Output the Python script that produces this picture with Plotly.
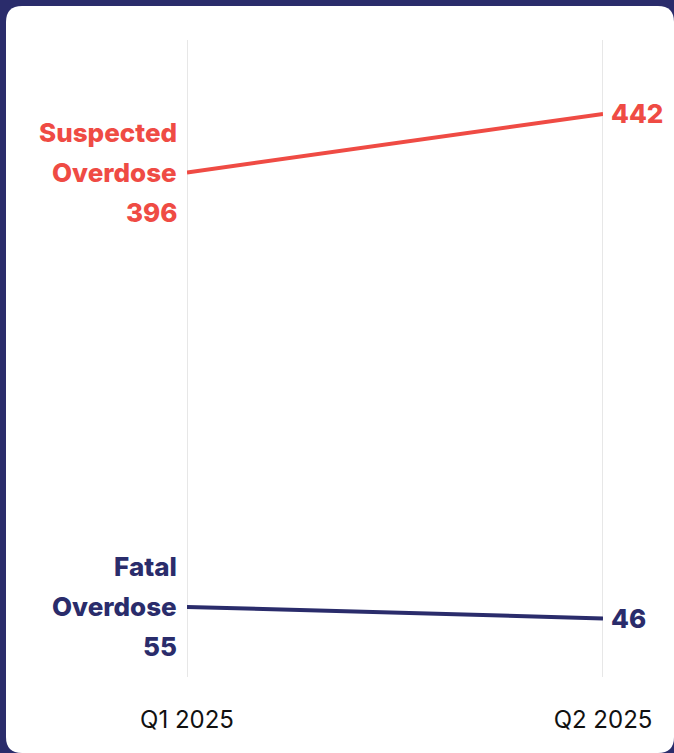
import plotly.graph_objects as go

quarters = ["Q1 2025", "Q2 2025"]
suspected = [396, 442]
fatal = [55, 46]
series_names = [["Suspected", "Overdose"], ["Fatal", "Overdose"]]
colors = ["#EF4B44", "#2A2C6B"]
NAVY = "#2A2C6B"

W, H = 674, 753
ML, MR, MT, MB = 187, W - 603, 40, H - 677

fig = go.Figure()
for vals, col in zip([suspected, fatal], colors):
    fig.add_trace(go.Scatter(x=[0, 1], y=vals, mode="lines",
                             line=dict(color=col, width=4), hoverinfo="skip",
                             showlegend=False, cliponaxis=False))

FONT = "Inter"
anns = []
for vals, names, col in zip([suspected, fatal], series_names, colors):
    lines = names + [str(vals[0])]
    for i, t in enumerate(lines):
        anns.append(dict(x=0, y=vals[0], xref="x", yref="y", text=t, showarrow=False,
                         xanchor="right", yanchor="middle", xshift=-8, yshift=(1 - i) * 40,
                         font=dict(family=FONT, size=26, color=col, weight=800)))
    anns.append(dict(x=1, y=vals[1], xref="x", yref="y", text=str(vals[1]), showarrow=False,
                     xanchor="left", yanchor="middle", xshift=6,
                     font=dict(family=FONT, size=26, color=col, weight=800)))

# rounded white card (paper coordinates)
pw, ph = W - ML - MR, H - MT - MB
def px(x): return (x - ML) / pw
def py(y): return (H - MB - y) / ph
L, T, R, B, r = 6, 6, 674, 753, 16
path = (f"M {px(L+r)},{py(T)} L {px(R-r)},{py(T)} Q {px(R)},{py(T)} {px(R)},{py(T+r)} "
        f"L {px(R)},{py(B-r)} Q {px(R)},{py(B)} {px(R-r)},{py(B)} "
        f"L {px(L+r)},{py(B)} Q {px(L)},{py(B)} {px(L)},{py(B-r)} "
        f"L {px(L)},{py(T+r)} Q {px(L)},{py(T)} {px(L+r)},{py(T)} Z")

shapes = [dict(type="path", path=path, xref="paper", yref="paper",
               fillcolor="white", line=dict(width=0), layer="below")]
for xv in range(len(quarters)):
    shapes.append(dict(type="line", xref="x", yref="paper", x0=xv, x1=xv, y0=0, y1=1,
                       line=dict(color="#CFCFCF", width=1), layer="below"))

fig.update_layout(
    width=W, height=H,
    margin=dict(l=ML, r=MR, t=MT, b=MB),
    paper_bgcolor=NAVY, plot_bgcolor="rgba(0,0,0,0)",
    shapes=shapes,
    annotations=anns,
    xaxis=dict(range=[0, 1], tickvals=[0, 1], ticktext=quarters, showgrid=False,
               zeroline=False, showline=False,
               ticks="", ticklabelstandoff=26,
               tickfont=dict(family="Inter", size=24, color="#111111")),
    yaxis=dict(range=[0, 500], visible=False, showgrid=False, zeroline=False),
)
fig.write_html("out.html", config={"displayModeBar": False},
               post_script="document.body.style.margin='0';document.body.style.background='#2A2C6B';")
